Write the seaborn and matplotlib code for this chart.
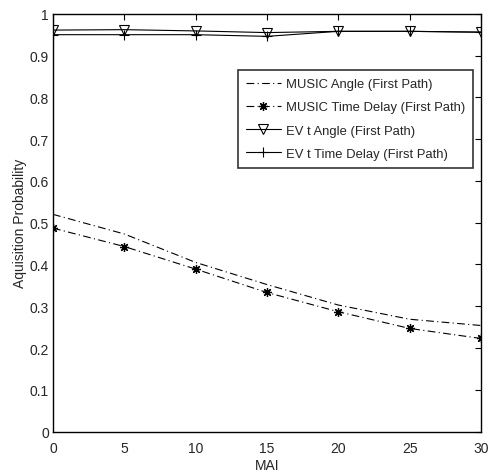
import numpy as np
import pandas as pd
import matplotlib
matplotlib.use("Agg")
import matplotlib.pyplot as plt
import seaborn as sns

# Veriler
mai = [0, 5, 10, 15, 20, 25, 30]
music_angle = [0.520, 0.473, 0.405, 0.352, 0.303, 0.269, 0.254]
music_delay = [0.487, 0.443, 0.389, 0.333, 0.287, 0.247, 0.223]
evt_angle = [0.961, 0.962, 0.959, 0.955, 0.958, 0.958, 0.956]
evt_delay = [0.950, 0.950, 0.950, 0.946, 0.958, 0.958, 0.956]
labels = ["MUSIC Angle (First Path)", "MUSIC Time Delay (First Path)",
          "EV t Angle (First Path)", "EV t Time Delay (First Path)"]

sns.set_style("white")
plt.rcParams['font.family'] = ['Liberation Sans', 'DejaVu Sans']

fig = plt.figure(figsize=(4.93, 4.77), dpi=100)
ax = fig.add_axes([0.1075, 0.093, 0.868, 0.876])

dashdot = (0, (7, 3, 1, 3))
sns.lineplot(x=mai, y=music_angle, ax=ax, color='black', lw=0.8,
             linestyle=dashdot, label=labels[0])
sns.lineplot(x=mai, y=music_delay, ax=ax, color='black', lw=0.8,
             linestyle=dashdot, marker=(8, 2, 0), markersize=6.5,
             markeredgewidth=0.9, markeredgecolor='black', label=labels[1])
sns.lineplot(x=mai, y=evt_angle, ax=ax, color='black', lw=0.8,
             marker='v', markersize=6.5, markerfacecolor='none',
             markeredgecolor='black', markeredgewidth=0.8, label=labels[2])
sns.lineplot(x=mai, y=evt_delay, ax=ax, color='black', lw=0.8,
             marker='+', markersize=7, markeredgewidth=0.8,
             markeredgecolor='black', label=labels[3])

ax.set_xlim(0, 30)
ax.set_ylim(0, 1)
ax.set_xticks(range(0, 31, 5))
ax.set_yticks(np.arange(0, 1.01, 0.1))
ax.set_yticklabels(['0', '0.1', '0.2', '0.3', '0.4', '0.5', '0.6', '0.7', '0.8', '0.9', '1'])
ax.tick_params(direction='in', length=4, width=0.8, top=True, right=True,
               labelsize=10, color='black')
ax.tick_params(axis='x', pad=7)
ax.tick_params(axis='y', pad=3)
for s in ax.spines.values():
    s.set_color('black')
    s.set_linewidth(1.0)
ax.set_xlabel("MAI", fontsize=10, labelpad=2)
ax.set_ylabel("Aquisition Probability", fontsize=10, labelpad=1.5)

leg = ax.legend(loc='upper right', bbox_to_anchor=(0.982, 0.865), fontsize=9.4,
                frameon=True, fancybox=False, edgecolor='black',
                borderpad=0.6, labelspacing=0.85, handlelength=2.7,
                handletextpad=0.4, borderaxespad=0)
leg.get_frame().set_linewidth(1.2)

fig.savefig("out.png", dpi=100)
